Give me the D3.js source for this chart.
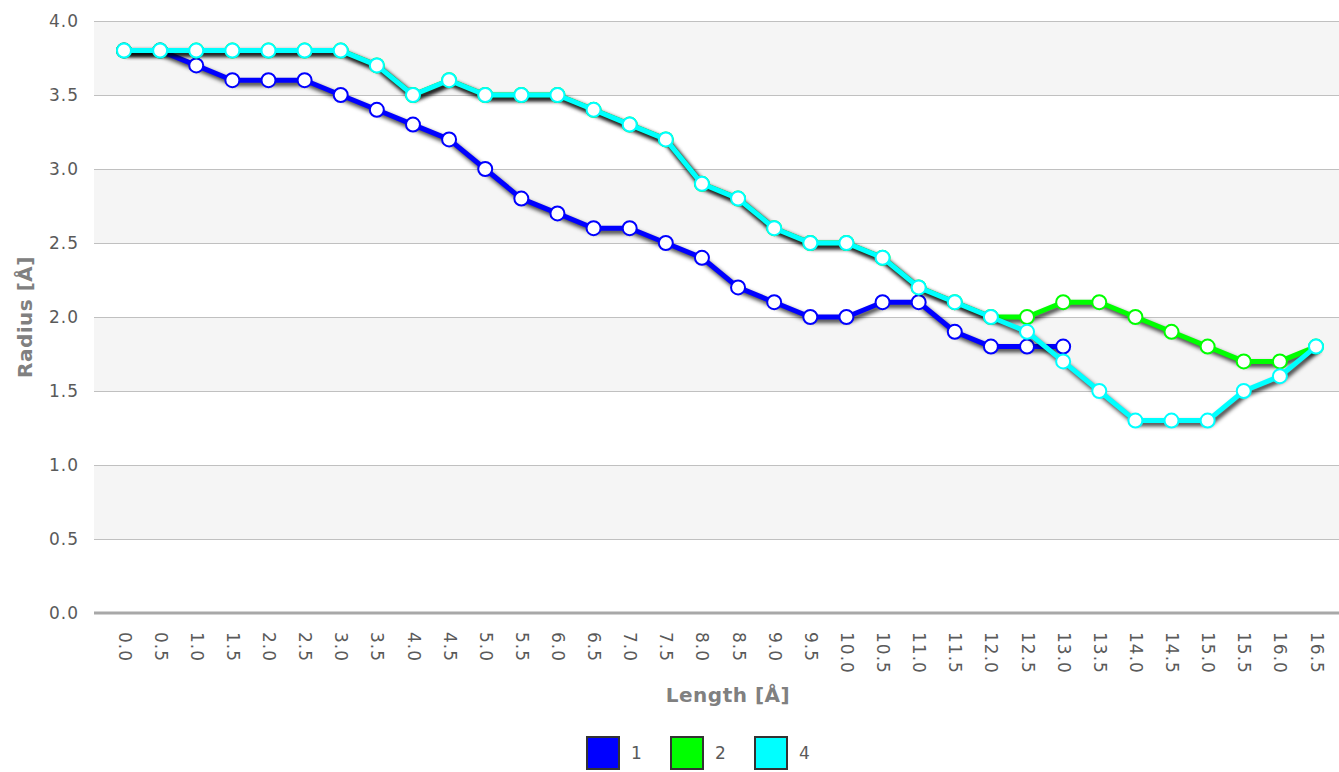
<!DOCTYPE html>
<html><head><meta charset="utf-8">
<script src="https://cdn.jsdelivr.net/npm/d3@7"></script>
<style>body{margin:0;background:#fff}svg{display:block}</style>
</head><body>
<svg id="chart" width="1339" height="772"></svg>
<script>
const lengths = ["0.0","0.5","1.0","1.5","2.0","2.5","3.0","3.5","4.0","4.5","5.0","5.5","6.0","6.5","7.0","7.5","8.0","8.5","9.0","9.5","10.0","10.5","11.0","11.5","12.0","12.5","13.0","13.5","14.0","14.5","15.0","15.5","16.0","16.5"];
const series1 = [3.8,3.8,3.7,3.6,3.6,3.6,3.5,3.4,3.3,3.2,3.0,2.8,2.7,2.6,2.6,2.5,2.4,2.2,2.1,2.0,2.0,2.1,2.1,1.9,1.8,1.8,1.8];
const series2 = [3.8,3.8,3.8,3.8,3.8,3.8,3.8,3.7,3.5,3.6,3.5,3.5,3.5,3.4,3.3,3.2,2.9,2.8,2.6,2.5,2.5,2.4,2.2,2.1,2.0,2.0,2.1,2.1,2.0,1.9,1.8,1.7,1.7,1.8];
const series4 = [3.8,3.8,3.8,3.8,3.8,3.8,3.8,3.7,3.5,3.6,3.5,3.5,3.5,3.4,3.3,3.2,2.9,2.8,2.6,2.5,2.5,2.4,2.2,2.1,2.0,1.9,1.7,1.5,1.3,1.3,1.3,1.5,1.6,1.8];
const seriesNames = ["1","2","4"];
const seriesColors = ["#0000ff","#00ff00","#00ffff"];
const yTicks = [0,0.5,1.0,1.5,2.0,2.5,3.0,3.5,4.0];

const svg = d3.select("#chart");
const pLeft = 94, pRight = 1339, pTop = 21, pBottom = 613;
const x = d3.scalePoint().domain(lengths).range([124, 1316]);
const y = d3.scaleLinear().domain([0, 4]).range([pBottom, pTop]);

const defs = svg.append("defs");
const f = defs.append("filter").attr("id","shadow").attr("x","-5%").attr("y","-10%").attr("width","110%").attr("height","130%");
f.append("feGaussianBlur").attr("stdDeviation", 2);

// bands
for (let i = 0; i < yTicks.length - 1; i++) {
  if ((yTicks.length - 2 - i) % 2 === 0) {
    svg.append("rect").attr("x", pLeft).attr("width", pRight - pLeft)
      .attr("y", y(yTicks[i+1])).attr("height", y(yTicks[i]) - y(yTicks[i+1]))
      .attr("fill", "#f5f5f5");
  }
}
// gridlines
svg.append("g").selectAll("line").data(yTicks.filter(d => d > 0)).join("line")
  .attr("x1", pLeft).attr("x2", pRight).attr("y1", d => y(d) + 0.5).attr("y2", d => y(d) + 0.5)
  .attr("stroke", "#c0c0c0").attr("stroke-width", 1);
svg.append("line").attr("x1", pLeft).attr("x2", pRight).attr("y1", y(0)).attr("y2", y(0))
  .attr("stroke", "#a8a8a8").attr("stroke-width", 3);

// y axis labels
const yAxis = d3.axisLeft(y).tickValues(yTicks).tickFormat(d3.format(".1f")).tickSize(0).tickPadding(0);
const ya = svg.append("g").attr("transform", `translate(79,0)`).call(yAxis);
ya.select(".domain").remove();
ya.selectAll("text").attr("font-family","DejaVu Sans").attr("font-size",17).attr("fill","#5a5a5a").attr("letter-spacing","1px");

// x axis labels
const xa = svg.append("g").attr("transform", `translate(0,${pBottom})`)
  .call(d3.axisBottom(x).tickSize(0).tickPadding(0));
xa.select(".domain").remove();
xa.selectAll("text")
  .attr("font-family","DejaVu Sans").attr("font-size",17).attr("fill","#5a5a5a").attr("letter-spacing","1px")
  .attr("text-anchor","start").attr("dy","0.35em")
  .attr("transform","translate(0,19) rotate(90)").attr("x",0).attr("y",0);

// axis titles
svg.append("text").attr("x", 728).attr("y", 702).attr("text-anchor","middle")
  .attr("font-family","DejaVu Sans").attr("font-weight","bold").attr("font-size",20).attr("fill","#808080")
  .attr("letter-spacing","0.5px").text("Length [Å]");
svg.append("text").attr("transform","translate(32,317) rotate(-90)").attr("text-anchor","middle")
  .attr("font-family","DejaVu Sans").attr("font-weight","bold").attr("font-size",20).attr("fill","#808080")
  .attr("letter-spacing","0.5px").text("Radius [Å]");

// series
const allSeries = [series1, series2, series4];
const line = d3.line().x((d,i) => x(lengths[i])).y(d => y(d));
allSeries.forEach((vals, k) => {
  const g = svg.append("g");
  g.append("path").datum(vals).attr("d", line).attr("fill","none")
    .attr("stroke","#000").attr("stroke-opacity",0.8).attr("stroke-width",5)
    .attr("stroke-linejoin","round").attr("transform","translate(2,3)").attr("filter","url(#shadow)");
  g.append("path").datum(vals).attr("d", line).attr("fill","none")
    .attr("stroke", seriesColors[k]).attr("stroke-width",5).attr("stroke-linejoin","round");
  g.selectAll("circle").data(vals).join("circle")
    .attr("cx", (d,i) => x(lengths[i])).attr("cy", d => y(d)).attr("r", 7)
    .attr("fill","#fff").attr("stroke", seriesColors[k]).attr("stroke-width",2);
});

// legend
const legX = [587, 671, 755];
const lg = svg.append("g");
seriesNames.forEach((name, k) => {
  lg.append("rect").attr("x", legX[k]).attr("y", 737).attr("width", 32).attr("height", 32)
    .attr("fill", seriesColors[k]).attr("stroke","#333").attr("stroke-width",2);
  lg.append("text").attr("x", legX[k] + 44).attr("y", 759)
    .attr("font-family","DejaVu Sans").attr("font-size",17).attr("fill","#5a5a5a").text(name);
});
</script>
</body></html>
